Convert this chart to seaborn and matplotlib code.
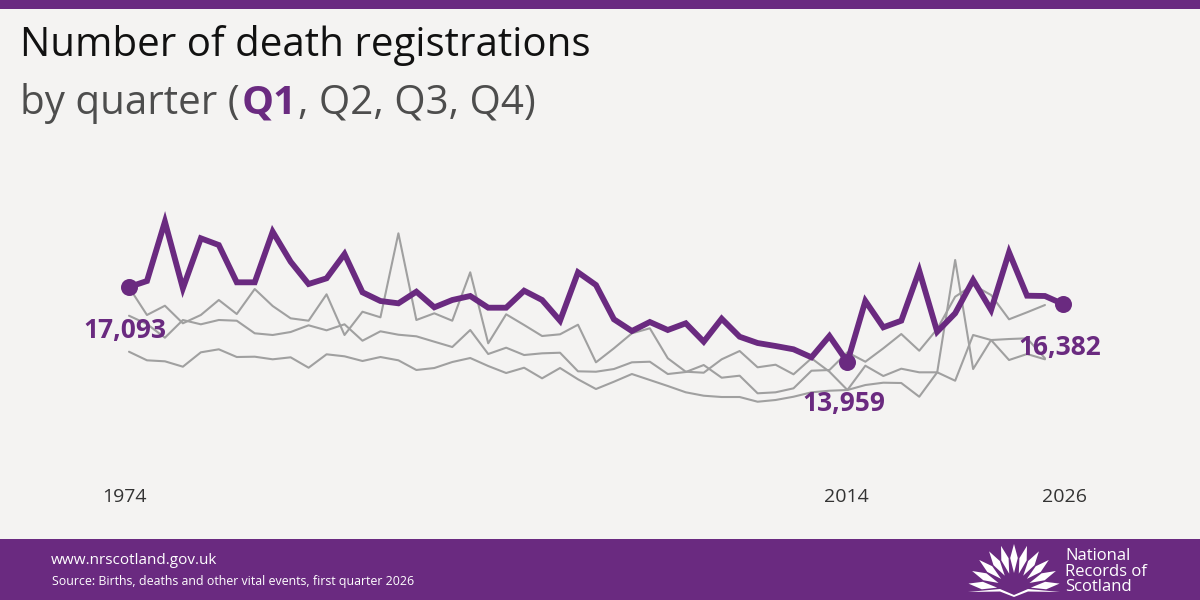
import numpy as np
import pandas as pd
import matplotlib.pyplot as plt
from matplotlib.patches import Polygon, Rectangle
import seaborn as sns

first_year = 1974
q1 = [17093, 17344, 19823, 17038, 19129, 18848, 17289, 17289, 19404, 18150, 17218, 17456, 18472,
      16871, 16508, 16411, 16896, 16244, 16550, 16717, 16228, 16228, 16938, 16550, 15684, 17707,
      17176, 15743, 15254, 15630, 15296, 15576, 14807, 15768, 15015, 14752, 14627, 14489, 14154,
      15045, 13959, 16508, 15408, 15684, 17774, 15224, 15994, 17385, 16132, 18543, 16730, 16717,
      16382]
q2 = [17080, 15923, 16311, 15576, 15923, 16550, 15964, 17009, 16299, 15784, 15684, 16788, 15087,
      16060, 15826, 19337, 15714, 15994, 15684, 17707, 14740, 15952, 15505, 15045, 15116, 15517,
      13945, 14530, 15158, 15367, 14113, 13552, 13511, 14071, 14418, 13737, 13845, 13444, 14113,
      13552, 12788, 13803, 13373, 13678, 13527, 13527, 18222, 13665, 14877, 14919, 14948, 14113]
q3 = [14388, 14029, 13987, 13762, 14363, 14489, 14167, 14180, 14071, 14154, 13719, 14280, 14196,
      14000, 14167, 14029, 13624, 13707, 13958, 14125, 13791, 13498, 13719, 13276, 13707, 13235,
      12829, 13134, 13456, 13206, 12955, 12692, 12549, 12495, 12495, 12298, 12370, 12507, 12691,
      12758, 12788, 12996, 13093, 13080, 12507, 13527, 13176, 15087, 14877, 14041, 14292, 14071]
q4 = [15893, 15546, 14974, 15714, 15534, 15714, 15684, 15158, 15087, 15212, 15492, 15283, 15534,
      14848, 15241, 15099, 15032, 14807, 14585, 15296, 14292, 14556, 14250, 14321, 14346, 13569,
      13552, 13665, 13945, 13970, 13456, 13540, 13832, 13302, 13386, 12650, 12691, 12858, 13594,
      13623, 14363, 13970, 14530, 15128, 14430, 15338, 16687, 17176, 16758, 15743, 16035, 16340]

labelled_years = [1974, 2014, 2026]
labelled_text = ["17,093", "13,959", "16,382"]

PURPLE = "#6a2a80"
GREY = "#a0a0a0"
BG = "#f4f3f2"

sns.set_theme(style="white")
plt.rcParams["font.family"] = ["Open Sans", "DejaVu Sans"]

years_q1 = np.arange(first_year, first_year + len(q1))
df_q1 = pd.DataFrame({"year": years_q1, "deaths": q1})
others = []
for name, vals in [("Q2", q2), ("Q3", q3), ("Q4", q4)]:
    others.append(pd.DataFrame({"year": years_q1[:len(vals)], "deaths": vals, "quarter": name}))
df_others = pd.concat(others)
df_dots = df_q1[df_q1["year"].isin(labelled_years)]

fig = plt.figure(figsize=(12, 6), dpi=100, facecolor=BG)

# pixel-space layer for banners, titles and the logo
bg = fig.add_axes([0, 0, 1, 1], zorder=0)
bg.set_xlim(0, 1200)
bg.set_ylim(600, 0)
bg.axis("off")
bg.add_patch(Rectangle((0, 0), 1200, 9, color=PURPLE, lw=0))
bg.add_patch(Rectangle((0, 539), 1200, 61, color=PURPLE, lw=0))

# chart layer fills the figure, the limits put the years and counts in place
ax = fig.add_axes([0, 0, 1, 1], zorder=1)
ax.patch.set_alpha(0)
px_year = 17.96
x0 = first_year - 129 / px_year
ax.set_xlim(x0, x0 + 1200 / px_year)
ax.set_ylim(4010, 29090)
sns.lineplot(data=df_others, x="year", y="deaths", units="quarter", estimator=None,
             color=GREY, linewidth=1.5, ax=ax, legend=False)
sns.lineplot(data=df_q1, x="year", y="deaths", color=PURPLE, linewidth=4.2, ax=ax,
             legend=False, estimator=None, solid_joinstyle="miter")
sns.scatterplot(data=df_dots, x="year", y="deaths", color=PURPLE, s=150, linewidth=0, ax=ax,
                legend=False, zorder=5)
ax.axis("off")

# data labels and year labels
label_offsets = [(-4, 43), (-4, 42), (-3, 43)]
year_shift = [-5, -1, 2]
for yr, txt, (dx, dy), sh in zip(labelled_years, labelled_text, label_offsets, year_shift):
    val = df_q1.loc[df_q1["year"] == yr, "deaths"].iloc[0]
    ax.annotate(txt, (yr, val), xytext=(dx / 100 * 72, -dy / 100 * 72), textcoords="offset points",
                ha="center", va="center", color=PURPLE, fontsize=19, fontweight="bold", zorder=6)
    bg.text(129 + (yr - first_year) * px_year + sh, 497, str(yr), ha="center",
            va="center", color="#333333", fontsize=14)

# titles
bg.text(20, 46, "Number of death registrations", fontsize=29, color="#111111", va="center")
fig.canvas.draw()
r = fig.canvas.get_renderer()
x = 20
for piece, col, wt in [("by quarter (", "#4d4d4d", "normal"), ("Q1", PURPLE, "bold"),
                       (", Q2, Q3, Q4)", "#4d4d4d", "normal")]:
    t = bg.text(x, 98, piece, fontsize=29, color=col, fontweight=wt, va="center_baseline")
    x += t.get_window_extent(r).width + 1.5

# footer
bg.text(51, 561, "www.nrscotland.gov.uk", fontsize=11, color="white", va="center")
bg.text(52, 582, "Source: Births, deaths and other vital events, first quarter 2026", fontsize=8.95,
        color="white", va="center")
for i, line in enumerate(["National", "Records of", "Scotland"]):
    bg.text(1065, 556 + i * 15.5, line, fontsize=12, color="white", va="center")

# logo: fan of leaves over an open book
cx, cy = 1014, 590
for ang in np.linspace(8, 172, 11):
    a = np.radians(ang)
    u = np.array([np.cos(a), -np.sin(a)])
    n = np.array([-u[1], u[0]])
    c = np.array([cx, cy])
    pts = [c + u * 17, c + u * 32 + n * 3.8, c + u * 46, c + u * 32 - n * 3.8]
    bg.add_patch(Polygon(pts, closed=True, color="white", lw=0))
bg.add_patch(Polygon([(968, 592), (1000, 589), (1014, 595), (1028, 589), (1060, 592),
                      (1028, 591.5), (1014, 597), (1000, 591.5)], closed=True, color="white", lw=0))

fig.savefig("out.png", dpi=100, facecolor=BG)
